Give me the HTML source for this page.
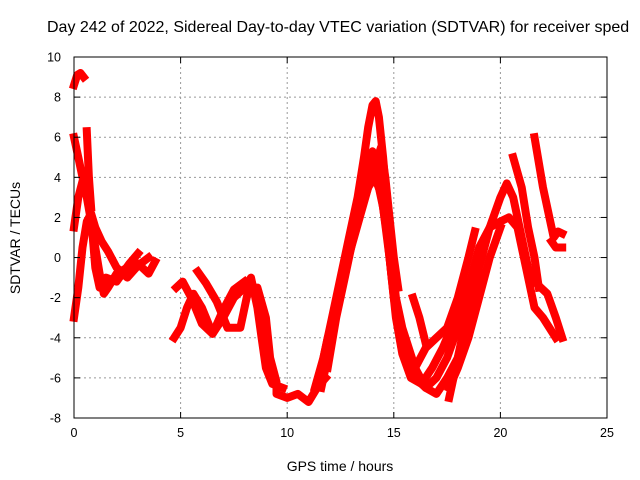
<!DOCTYPE html>
<html><head><meta charset="utf-8"><style>
body{margin:0;background:#fff}
svg{display:block;font-family:"Liberation Sans",sans-serif}
</style></head><body>
<svg id="chart" width="640" height="480">
<rect width="640" height="480" fill="#fff"/>
<text x="47" y="32" font-size="16">Day 242 of 2022, Sidereal Day-to-day VTEC variation (SDTVAR) for receiver sped</text>
<g id="grid"></g>
<g id="series"></g>
<g id="axes"></g>
<text x="340" y="471" font-size="14" text-anchor="middle">GPS time / hours</text>
<text transform="translate(20,238) rotate(-90)" font-size="14" text-anchor="middle">SDTVAR / TECUs</text>
</svg>
<script>
const xTicks=[0,5,10,15,20,25];
const yTicks=[-8,-6,-4,-2,0,2,4,6,8,10];
const track1=[[0,8.6],[0.15,9.1],[0.3,9.2],[0.45,9.0]];
const track2=[[0,6],[0.2,5],[0.4,4],[0.6,3],[0.8,1.8],[1.0,0.5],[1.2,-0.8],[1.4,-1.8],[1.6,-1.5],[2,-0.8],[2.5,-0.5],[3,-0.3],[3.5,-0.8],[3.8,-0.2]];
const track3=[[0,-3],[0.2,-1.5],[0.4,0.5],[0.6,1.8],[0.8,2.2],[1.0,1.5],[1.3,0.8],[1.6,0.3],[2,-0.5],[2.5,-1],[3,-0.4],[3.5,0]];
const track4=[[0,1.5],[0.2,3],[0.4,3.8],[0.6,3.5],[0.8,2],[1.0,-0.5],[1.2,-1.5],[1.5,-1.0],[2,-1.2],[2.6,-0.3],[3,0.2]];
const track5=[[0.6,6.3],[0.7,4],[0.8,2.5]];
const track6=[[4.7,-4],[5,-3.5],[5.3,-2.5],[5.6,-1.8],[6,-2.5],[6.5,-3.8],[7,-3],[7.5,-2.0],[8,-1.5],[8.3,-1],[8.6,-2.5],[8.8,-4],[9.0,-5.5],[9.3,-6.3],[9.8,-6.5]];
const track7=[[4.8,-1.5],[5.1,-1.2],[5.5,-2],[6,-3.3],[6.5,-3.8],[7,-2.6],[7.5,-1.6],[8,-1.2]];
const track8=[[5.8,-0.7],[6.2,-1.3],[6.7,-2.2],[7.2,-3.5],[7.8,-3.5],[8.2,-1.5],[8.6,-1.5],[9,-3.0],[9.2,-5],[9.5,-6.2],[9.5,-6.8],[10,-7],[10.5,-6.8],[11,-7.2],[11.4,-6.5],[11.8,-6]];
const track9=[[11.3,-6.5],[11.7,-5],[12.1,-3],[12.5,-1],[12.9,1],[13.3,3],[13.6,5],[13.8,6.5],[14,7.6],[14.15,7.8],[14.3,7],[14.5,5],[14.7,2.5],[14.9,0],[15.1,-2],[15.4,-3.5],[15.7,-4.5],[16,-5.5],[16.5,-6.5],[17,-6.8],[17.5,-6],[18,-5],[18.5,-3],[19,-0.5],[19.5,1.5],[20,3],[20.3,3.7],[20.6,3],[21,1],[21.3,-0.5],[21.7,-1.3],[22.2,-1.8],[22.6,-3],[22.9,-4]];
const track10=[[11.6,-6.5],[12,-4.5],[12.4,-2],[12.8,0],[13.2,2],[13.6,4],[14,5.3],[14.3,4.5],[14.6,2],[14.9,-1],[15.2,-3],[15.5,-4.5],[16,-6],[16.5,-6.5],[17,-6],[17.5,-5],[18,-3.5],[18.5,-1.5],[19,0.5],[19.5,1.5],[20,1.8],[20.4,2],[20.8,1.5],[21.2,-0.5],[21.6,-2.5],[22,-3],[22.6,-4]];
const track11=[[11.9,-5.5],[12.3,-3],[12.7,-1],[13.1,1],[13.5,2.5],[13.8,3.5],[14.1,4.0],[14.4,3.2],[14.7,1],[15,-2],[15.3,-4],[15.6,-5],[16,-5.5],[16.5,-4.5],[17,-4],[17.5,-3.5],[18,-2],[18.5,0],[18.8,1.3]];
const track12=[[15.9,-2],[16.2,-3],[16.5,-4.3]];
const track13=[[17.6,-7],[17.8,-6],[18.2,-4],[18.6,-2],[19,-0.8]];
const track14=[[20.6,5],[21,3.5],[21.3,1.5],[21.6,0],[21.8,-1.5]];
const track15=[[21.6,6],[22,3.5],[22.3,2],[22.5,1],[22.7,1.3],[22.9,1.2]];
const track16=[[22.4,0.8],[22.6,0.5],[22.9,0.5]];
const track17=[[11.5,-6],[11.9,-4],[12.3,-2.5],[12.7,-0.5],[13.1,1.5],[13.5,3],[13.9,4.5],[14.2,4],[14.5,2.5],[14.8,0],[15.1,-3],[15.4,-4.8],[15.8,-6],[16.3,-6.3],[16.8,-5.5],[17.3,-4.5],[17.9,-3],[18.4,-1.2]];
const track18=[[12.6,-1],[13,0.5],[13.4,2],[13.8,3.5],[14.1,4.5],[14.4,5.5],[14.6,4],[14.8,2],[15,0],[15.2,-1.5]];
const track19=[[17.6,-6.5],[18,-5.5],[18.5,-4],[19,-2],[19.5,0],[20,1.5]];
const tracks=[track1,track2,track3,track4,track5,track6,track7,track8,track9,track10,track11,track12,track13,track14,track15,track16,track17,track18,track19];
const L=74,R=607,T=57,B=418,xMin=0,xMax=25,yMin=-8,yMax=10;
const NS="http://www.w3.org/2000/svg";
function xs(v){return L+(v-xMin)/(xMax-xMin)*(R-L);}
function ys(v){return B-(v-yMin)/(yMax-yMin)*(B-T);}
function mk(tag,attrs,parent){const e=document.createElementNS(NS,tag);for(const k in attrs)e.setAttribute(k,attrs[k]);parent.appendChild(e);return e;}
const grid=document.getElementById('grid'),axes=document.getElementById('axes'),series=document.getElementById('series');
xTicks.forEach(t=>{
 const x=xs(t);
 if(t>xMin&&t<xMax){const g=mk('line',{x1:x,x2:x,y1:T,y2:B,stroke:'#999','stroke-dasharray':'2,3'},grid);
 
 }
 mk('line',{x1:x,x2:x,y1:B,y2:B-6,stroke:'#000'},axes);
 mk('line',{x1:x,x2:x,y1:T,y2:T+6,stroke:'#000'},axes);
 const tx=mk('text',{x:x,y:B+19,'font-size':12.5,'text-anchor':'middle'},axes);tx.textContent=t;
 
 
});
yTicks.forEach(t=>{
 const y=ys(t);
 if(t>yMin&&t<yMax){const g=mk('line',{x1:L,x2:R,y1:y,y2:y,stroke:'#999','stroke-dasharray':'2,3'},grid);
 
 }
 mk('line',{x1:L,x2:L+6,y1:y,y2:y,stroke:'#000'},axes);
 mk('line',{x1:R,x2:R-6,y1:y,y2:y,stroke:'#000'},axes);
 const tx=mk('text',{x:L-13,y:y+4.5,'font-size':12.5,'text-anchor':'end'},axes);tx.textContent=t;
 
 
});
const fr=mk('rect',{x:L,y:T,width:R-L,height:B-T,fill:'none',stroke:'#000'},axes);


tracks.forEach(tr=>{
 const pts=tr.map(p=>xs(p[0]).toFixed(1)+','+ys(p[1]).toFixed(1)).join(' ');
 const pl=mk('polyline',{points:pts,fill:'none',stroke:'#f00','stroke-width':8,'stroke-linejoin':'round','stroke-linecap':'square'},series);
 
 
});
</script>
</body></html>
